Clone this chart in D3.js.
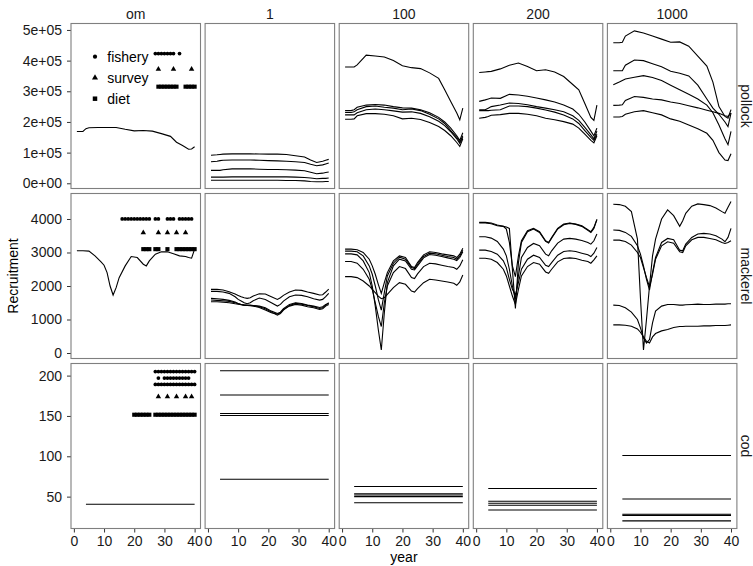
<!DOCTYPE html>
<html>
<head>
<meta charset="utf-8">
<script src="https://cdn.jsdelivr.net/npm/d3@7"></script>
<style>
  body { margin: 0; background: #fff; }
  text { font-family: "Liberation Sans", Arial, sans-serif; }
</style>
</head>
<body>
<div id="chart"></div>
<script>
// facets
var stocks = ["pollock", "mackerel", "cod"];
var models = ["om", "1", "100", "200", "1000"];
var xTicks = [0, 10, 20, 30, 40];

// pollock recruitment, in thousands
var pollockYears = [1, 3, 4, 5, 8, 11, 14, 17, 20, 23, 26, 29, 32, 34, 36, 38, 39, 40];
var pollockTicks = [0, 100, 200, 300, 400, 500];
var pollockTickLabels = ["0e+00", "1e+05", "2e+05", "3e+05", "4e+05", "5e+05"];
var pollockOm = [
  [169, 169, 178, 181, 182, 182, 182, 176, 171, 172, 170, 162, 153, 134, 123, 111, 112, 119]
];
var pollock1 = [
  [91.5, 93, 94, 95, 96, 96, 96, 95.5, 95, 95, 94, 90, 86, 76, 68, 72, 75, 78],
  [70, 72, 74, 75, 76, 76, 76, 75, 74, 73, 72, 70, 68, 62, 57, 60, 63, 66],
  [42, 42, 42, 44, 47, 47, 47, 46, 45, 45, 44, 43, 41, 36, 31, 33, 35, 37],
  [20, 20, 20, 20, 21, 21, 21, 21, 21, 21, 21, 20, 19, 17, 15, 16, 16, 17],
  [10, 10, 10, 10, 10, 10, 10, 10, 10, 10, 9, 9, 8, 6, 5, 5, 6, 6]
];
var pollock100 = [
  [379, 379, 379, 386, 418, 415, 412, 400, 383, 377, 374, 360, 342, 305, 267, 229, 207, 245],
  [237, 237, 240, 248, 255, 257, 255, 250, 246, 245, 240, 230, 215, 200, 180, 155, 140, 165],
  [231, 231, 233, 240, 250, 252, 248, 245, 240, 242, 237, 225, 210, 195, 172, 150, 135, 155],
  [223, 223, 223, 230, 240, 242, 240, 236, 232, 233, 228, 217, 202, 188, 168, 145, 130, 150],
  [209, 209, 210, 220, 227, 227, 225, 220, 210, 212, 208, 198, 185, 172, 155, 133, 120, 145]
];
var pollock200 = [
  [361, 363, 364, 365, 373, 385, 392, 381, 367, 370, 363, 348, 322, 305, 260, 215, 205, 255],
  [267, 272, 275, 278, 277, 290, 288, 284, 278, 272, 265, 255, 242, 225, 200, 170, 155, 180],
  [240, 240, 245, 250, 255, 262, 260, 256, 250, 245, 240, 233, 220, 205, 182, 158, 145, 170],
  [237, 237, 237, 238, 240, 252, 252, 250, 245, 239, 232, 223, 210, 195, 172, 150, 140, 160],
  [212, 215, 218, 222, 224, 228, 228, 225, 220, 212, 207, 201, 193, 180, 160, 140, 132, 155]
];
var pollock1000 = [
  [458, 458, 460, 480, 497, 490, 480, 470, 460, 461, 447, 415, 382, 330, 250, 218, 212, 240],
  [367, 367, 367, 385, 402, 400, 390, 380, 365, 359, 350, 320, 275, 245, 225, 200, 185, 229],
  [321, 330, 335, 340, 346, 351, 345, 335, 320, 305, 290, 275, 255, 230, 190, 145, 126, 169],
  [254, 255, 256, 270, 283, 280, 275, 272, 265, 260, 253, 246, 238, 233, 228, 220, 218, 229],
  [216, 216, 218, 225, 233, 237, 230, 223, 210, 202, 190, 178, 163, 140, 100, 76, 74, 96]
];

// mackerel recruitment
var mackerelYears = [1, 3, 5, 7, 9, 10, 11, 12, 13, 14, 15, 17, 19, 21, 23, 24, 25, 27, 29, 31, 33, 35, 37, 38, 39, 40];
var mackerelTicks = [0, 1000, 2000, 3000, 4000];
var mackerelOm = [
  [3050, 3050, 3040, 2900, 2720, 2620, 2400, 2000, 1730, 1950, 2250, 2600, 2880, 2850, 2650, 2600, 2750, 2950, 3020, 3020, 2960, 2900, 2880, 2850, 2830, 3100]
];
var mackerel1 = [
  [1900, 1900, 1880, 1830, 1760, 1720, 1680, 1650, 1630, 1650, 1700, 1770, 1760, 1680, 1600, 1650, 1720, 1820, 1880, 1870, 1820, 1780, 1730, 1740, 1820, 1910],
  [1840, 1840, 1820, 1780, 1680, 1600, 1550, 1500, 1470, 1500, 1560, 1640, 1600, 1500, 1400, 1450, 1550, 1680, 1730, 1720, 1680, 1620, 1580, 1600, 1680, 1780],
  [1630, 1620, 1600, 1570, 1520, 1480, 1450, 1430, 1420, 1420, 1420, 1380, 1320, 1220, 1130, 1180, 1280, 1420, 1480, 1460, 1420, 1380, 1330, 1350, 1430, 1500],
  [1580, 1570, 1560, 1540, 1500, 1470, 1450, 1430, 1420, 1410, 1400, 1360, 1280, 1200, 1160, 1200, 1300, 1400, 1450, 1430, 1380, 1350, 1300, 1320, 1400, 1450],
  [1530, 1530, 1520, 1500, 1470, 1460, 1440, 1430, 1430, 1430, 1420, 1400, 1350, 1250, 1180, 1220, 1320, 1450, 1500, 1480, 1430, 1400, 1360, 1380, 1450, 1480]
];
var mackerel100 = [
  [3100, 3100, 3080, 3000, 2800, 2600, 2350, 2050, 1780, 2100, 2400, 2750, 2900, 2850, 2580, 2550, 2700, 2930, 3020, 3000, 2960, 2930, 2900, 2850, 2950, 3130],
  [3040, 3040, 3020, 2900, 2600, 2350, 2000, 1600, 1280, 1800, 2300, 2680, 2860, 2800, 2550, 2520, 2650, 2880, 2980, 2960, 2920, 2880, 2850, 2800, 2900, 3070],
  [2960, 2960, 2930, 2750, 2400, 2000, 1400, 700, 90, 1200, 2100, 2600, 2800, 2750, 2500, 2480, 2600, 2840, 2940, 2920, 2880, 2840, 2800, 2760, 2850, 3020],
  [2730, 2730, 2680, 2500, 2200, 1900, 1500, 1100, 790, 1500, 2000, 2400, 2580, 2520, 2250, 2220, 2360, 2580, 2680, 2660, 2620, 2580, 2550, 2500, 2600, 2780],
  [2280, 2280, 2250, 2150, 2000, 1900, 1800, 1700, 1620, 1650, 1750, 1950, 2100, 2050, 1850, 1820, 1920, 2100, 2200, 2180, 2150, 2120, 2080, 2020, 2120, 2330]
];
var mackerel200 = [
  [3900, 3900, 3880, 3820, 3780, 3700, 3300, 2600, 2280, 2900, 3350, 3650, 3720, 3620, 3350, 3300, 3450, 3720, 3850, 3880, 3850, 3800, 3680, 3620, 3750, 3990],
  [3880, 3880, 3860, 3800, 3780, 3760, 3720, 2500, 1330, 2700, 3300, 3620, 3700, 3600, 3330, 3280, 3430, 3700, 3830, 3870, 3840, 3780, 3660, 3600, 3720, 3980],
  [3470, 3470, 3430, 3330, 3100, 2900, 2500, 2000, 1600, 2300, 2850, 3150, 3270, 3200, 2950, 2900, 3050, 3280, 3400, 3420, 3400, 3360, 3300, 3250, 3350, 3550],
  [3070, 3070, 3030, 2950, 2750, 2550, 2200, 1900, 1730, 2100, 2500, 2800, 2920, 2850, 2620, 2580, 2700, 2920, 3030, 3050, 3030, 2980, 2930, 2880, 2980, 3150],
  [2830, 2830, 2800, 2700, 2500, 2300, 2000, 1700, 1450, 1900, 2300, 2580, 2700, 2650, 2420, 2380, 2500, 2720, 2820, 2840, 2820, 2770, 2730, 2680, 2780, 2900]
];
var mackerel1000 = [
  [4440, 4430, 4380, 4220, 3400, 1640, 90, 1000, 2000, 2900, 3400, 4000, 4270, 4100, 3780, 3950, 4170, 4380, 4450, 4430, 4400, 4330, 4220, 4170, 4350, 4520],
  [3670, 3660, 3600, 3480, 3200, 2950, 2600, 2200, 1880, 2400, 2850, 3300, 3420, 3380, 3070, 3050, 3250, 3450, 3550, 3570, 3550, 3500, 3400, 3320, 3450, 3720],
  [3370, 3370, 3330, 3220, 3000, 2850, 2550, 2250, 1980, 2350, 2800, 3200, 3320, 3280, 3020, 3000, 3200, 3380, 3450, 3450, 3420, 3380, 3300, 3270, 3300, 3350],
  [1430, 1420, 1350, 1220, 1000, 750, 450, 300, 400, 900, 1250, 1400, 1450, 1450, 1430, 1430, 1440, 1450, 1460, 1450, 1450, 1460, 1460, 1460, 1470, 1470],
  [840, 840, 830, 800, 720, 620, 480, 350, 300, 480, 580, 660, 700, 760, 790, 790, 800, 800, 800, 810, 810, 820, 820, 820, 830, 840]
];

// cod recruitment: flat series from year 4 to 40
var codYears = [4, 40];
var codTicks = [50, 100, 150, 200];
var codOm = [40.5];
var cod1 = [206, 176, 153, 150.5, 71.5];
var cod100 = [62.5, 53.5, 52, 50, 42.5];
var cod200 = [60, 44.3, 41.8, 39.3, 33.5];
var cod1000 = [101, 47, 28.2, 26.8, 20];

// observation years shown in the om panels
var pollockFisheryYrs = [27, 28, 29, 30, 31, 32, 33, 35];
var pollockSurveyYrs = [28, 33, 39];
var pollockDietYrs = [28, 29, 30, 31, 32, 33, 34, 37, 38, 39, 40];
var mackerelFisheryYrs = [16, 17, 18, 19, 20, 21, 22, 23, 24, 25, 27, 28, 31, 32, 33, 35, 36, 37, 38, 39];
var mackerelSurveyYrs = [23, 28, 31, 34, 37];
var mackerelDietYrs = [23, 24, 25, 27, 28, 31, 34, 35, 36, 37, 38, 39, 40];
var codFisheryYrsA = [27, 28, 29, 30, 31, 32, 33, 34, 35, 36, 37, 38, 39, 40];
var codFisheryYrsB = [28, 30, 31, 32, 33, 34, 35, 36, 37, 38];
var codFisheryYrsC = [27, 28, 29, 30, 31, 32, 33, 34, 35, 36, 37, 38, 39, 40];
var codSurveyYrs = [28, 31, 34, 37, 39];
var codDietYrs = [20, 21, 22, 23, 24, 25, 27, 28, 29, 30, 31, 32, 33, 34, 35, 36, 37, 38, 39, 40];
var obsTypes = ["fishery", "survey", "diet"];

function draw() {
    var lineSets = {
        pollock: { om: pollockOm, "1": pollock1, "100": pollock100, "200": pollock200, "1000": pollock1000 },
        mackerel: { om: mackerelOm, "1": mackerel1, "100": mackerel100, "200": mackerel200, "1000": mackerel1000 },
        cod: { om: codOm, "1": cod1, "100": cod100, "200": cod200, "1000": cod1000 }
    };
    var obs = {
        pollock: [
            { type: "fishery", years: pollockFisheryYrs, level: 423 },
            { type: "survey", years: pollockSurveyYrs, level: 372 },
            { type: "diet", years: pollockDietYrs, level: 315 }
        ],
        mackerel: [
            { type: "fishery", years: mackerelFisheryYrs, level: 4000 },
            { type: "survey", years: mackerelSurveyYrs, level: 3590 },
            { type: "diet", years: mackerelDietYrs, level: 3100 }
        ],
        cod: [
            { type: "fishery", years: codFisheryYrsA, level: 205 },
            { type: "fishery", years: codFisheryYrsB, level: 197 },
            { type: "fishery", years: codFisheryYrsC, level: 189 },
            { type: "survey", years: codSurveyYrs, level: 174 },
            { type: "diet", years: codDietYrs, level: 151.5 }
        ]
    };

    var w = 753, h = 566;
    var panelW = 129.5, panelH = 165;
    var marginLeft = 71, marginTop = 23.5;
    var stepX = 134.1, stepY = 170;

    var svg = d3.select("#chart").append("svg")
        .attr("width", w)
        .attr("height", h);

    var x = d3.scaleLinear().domain([-0.95, 41.95]).range([0, panelW]);
    var yScales = {
        pollock: d3.scaleLinear().domain([-17, 521]).range([panelH, 0]),
        mackerel: d3.scaleLinear().domain([-164, 4761]).range([panelH, 0]),
        cod: d3.scaleLinear().domain([10.5, 215]).range([panelH, 0])
    };
    var yTicks = { pollock: pollockTicks, mackerel: mackerelTicks, cod: codTicks };
    var yearsFor = { pollock: pollockYears, mackerel: mackerelYears, cod: codYears };

    var shapes = { fishery: d3.symbolCircle, survey: d3.symbolTriangle, diet: d3.symbolSquare };
    var shapeSize = { fishery: 11, survey: 13, diet: 17 };

    function styleAxis(g) {
        g.select(".domain").remove();
        g.selectAll(".tick line").attr("stroke", "#333").attr("stroke-width", 1);
        g.selectAll(".tick text")
            .attr("fill", "#1a1a1a")
            .style("font-size", "14px")
            .style("font-family", "'Liberation Sans', Arial, sans-serif");
    }

    stocks.forEach(function (stock, j) {
        var y = yScales[stock];
        var yrs = yearsFor[stock];

        models.forEach(function (model, i) {
            var g = svg.append("g")
                .attr("transform", "translate(" + (marginLeft + i * stepX) + "," + (marginTop + j * stepY) + ")");

            var series = lineSets[stock][model].map(function (vals) {
                if (stock === "cod") {
                    return yrs.map(function (yr) { return [yr, vals]; });
                }
                return yrs.map(function (yr, k) { return [yr, vals[k]]; });
            });

            var line = d3.line()
                .x(function (d) { return x(d[0]); })
                .y(function (d) { return y(d[1]); });

            g.selectAll("path.rec")
                .data(series)
                .join("path")
                .attr("class", "rec")
                .attr("d", line)
                .attr("fill", "none")
                .attr("stroke", "#000")
                .attr("stroke-width", 1.1);

            if (model === "om") {
                obs[stock].forEach(function (o) {
                    g.selectAll(null)
                        .data(o.years)
                        .join("path")
                        .attr("d", d3.symbol().type(shapes[o.type]).size(shapeSize[o.type]))
                        .attr("transform", function (d) { return "translate(" + x(d) + "," + y(o.level) + ")"; })
                        .attr("fill", "#000");
                });

                var axL = d3.axisLeft(y).tickValues(yTicks[stock]).tickSize(4).tickPadding(5);
                if (stock === "pollock") {
                    axL.tickFormat(function (d, k) { return pollockTickLabels[k]; });
                } else {
                    axL.tickFormat(d3.format("d"));
                }
                g.append("g").call(axL).call(styleAxis);
            }

            if (j === stocks.length - 1) {
                var axB = d3.axisBottom(x).tickValues(xTicks).tickSize(4).tickPadding(3.5);
                g.append("g").attr("transform", "translate(0," + panelH + ")").call(axB).call(styleAxis);
            }

            g.append("rect")
                .attr("width", panelW)
                .attr("height", panelH)
                .attr("fill", "none")
                .attr("stroke", "#7f7f7f")
                .attr("stroke-width", 1.1);

            // column strips on top
            if (j === 0) {
                svg.append("text")
                    .attr("x", marginLeft + i * stepX + panelW / 2)
                    .attr("y", 19)
                    .attr("text-anchor", "middle")
                    .style("font-size", "14px")
                    .attr("fill", "#1a1a1a")
                    .text(model);
            }
        });

        // row strip on the right
        svg.append("text")
            .attr("transform", "translate(741," + (marginTop + j * stepY + panelH / 2) + ") rotate(90)")
            .attr("text-anchor", "middle")
            .style("font-size", "14px")
            .attr("fill", "#1a1a1a")
            .text(stock);
    });

    // legend inside the first panel
    var legend = svg.append("g").attr("transform", "translate(95,56.7)");
    obsTypes.forEach(function (t, k) {
        legend.append("path")
            .attr("d", d3.symbol().type(shapes[t]).size(shapeSize[t] + 3))
            .attr("transform", "translate(0," + k * 21 + ")")
            .attr("fill", "#000");
        legend.append("text")
            .attr("x", 12.3)
            .attr("y", k * 21)
            .attr("dy", "0.35em")
            .style("font-size", "14px")
            .attr("fill", "#000")
            .text(t);
    });

    svg.append("text")
        .attr("transform", "translate(18," + (marginTop + (2 * stepY + panelH) / 2) + ") rotate(-90)")
        .attr("text-anchor", "middle")
        .style("font-size", "14px")
        .text("Recruitment");

    svg.append("text")
        .attr("x", marginLeft + (4 * stepX + panelW) / 2)
        .attr("y", 562)
        .attr("text-anchor", "middle")
        .style("font-size", "14px")
        .text("year");
}

draw();
</script>
</body>
</html>
